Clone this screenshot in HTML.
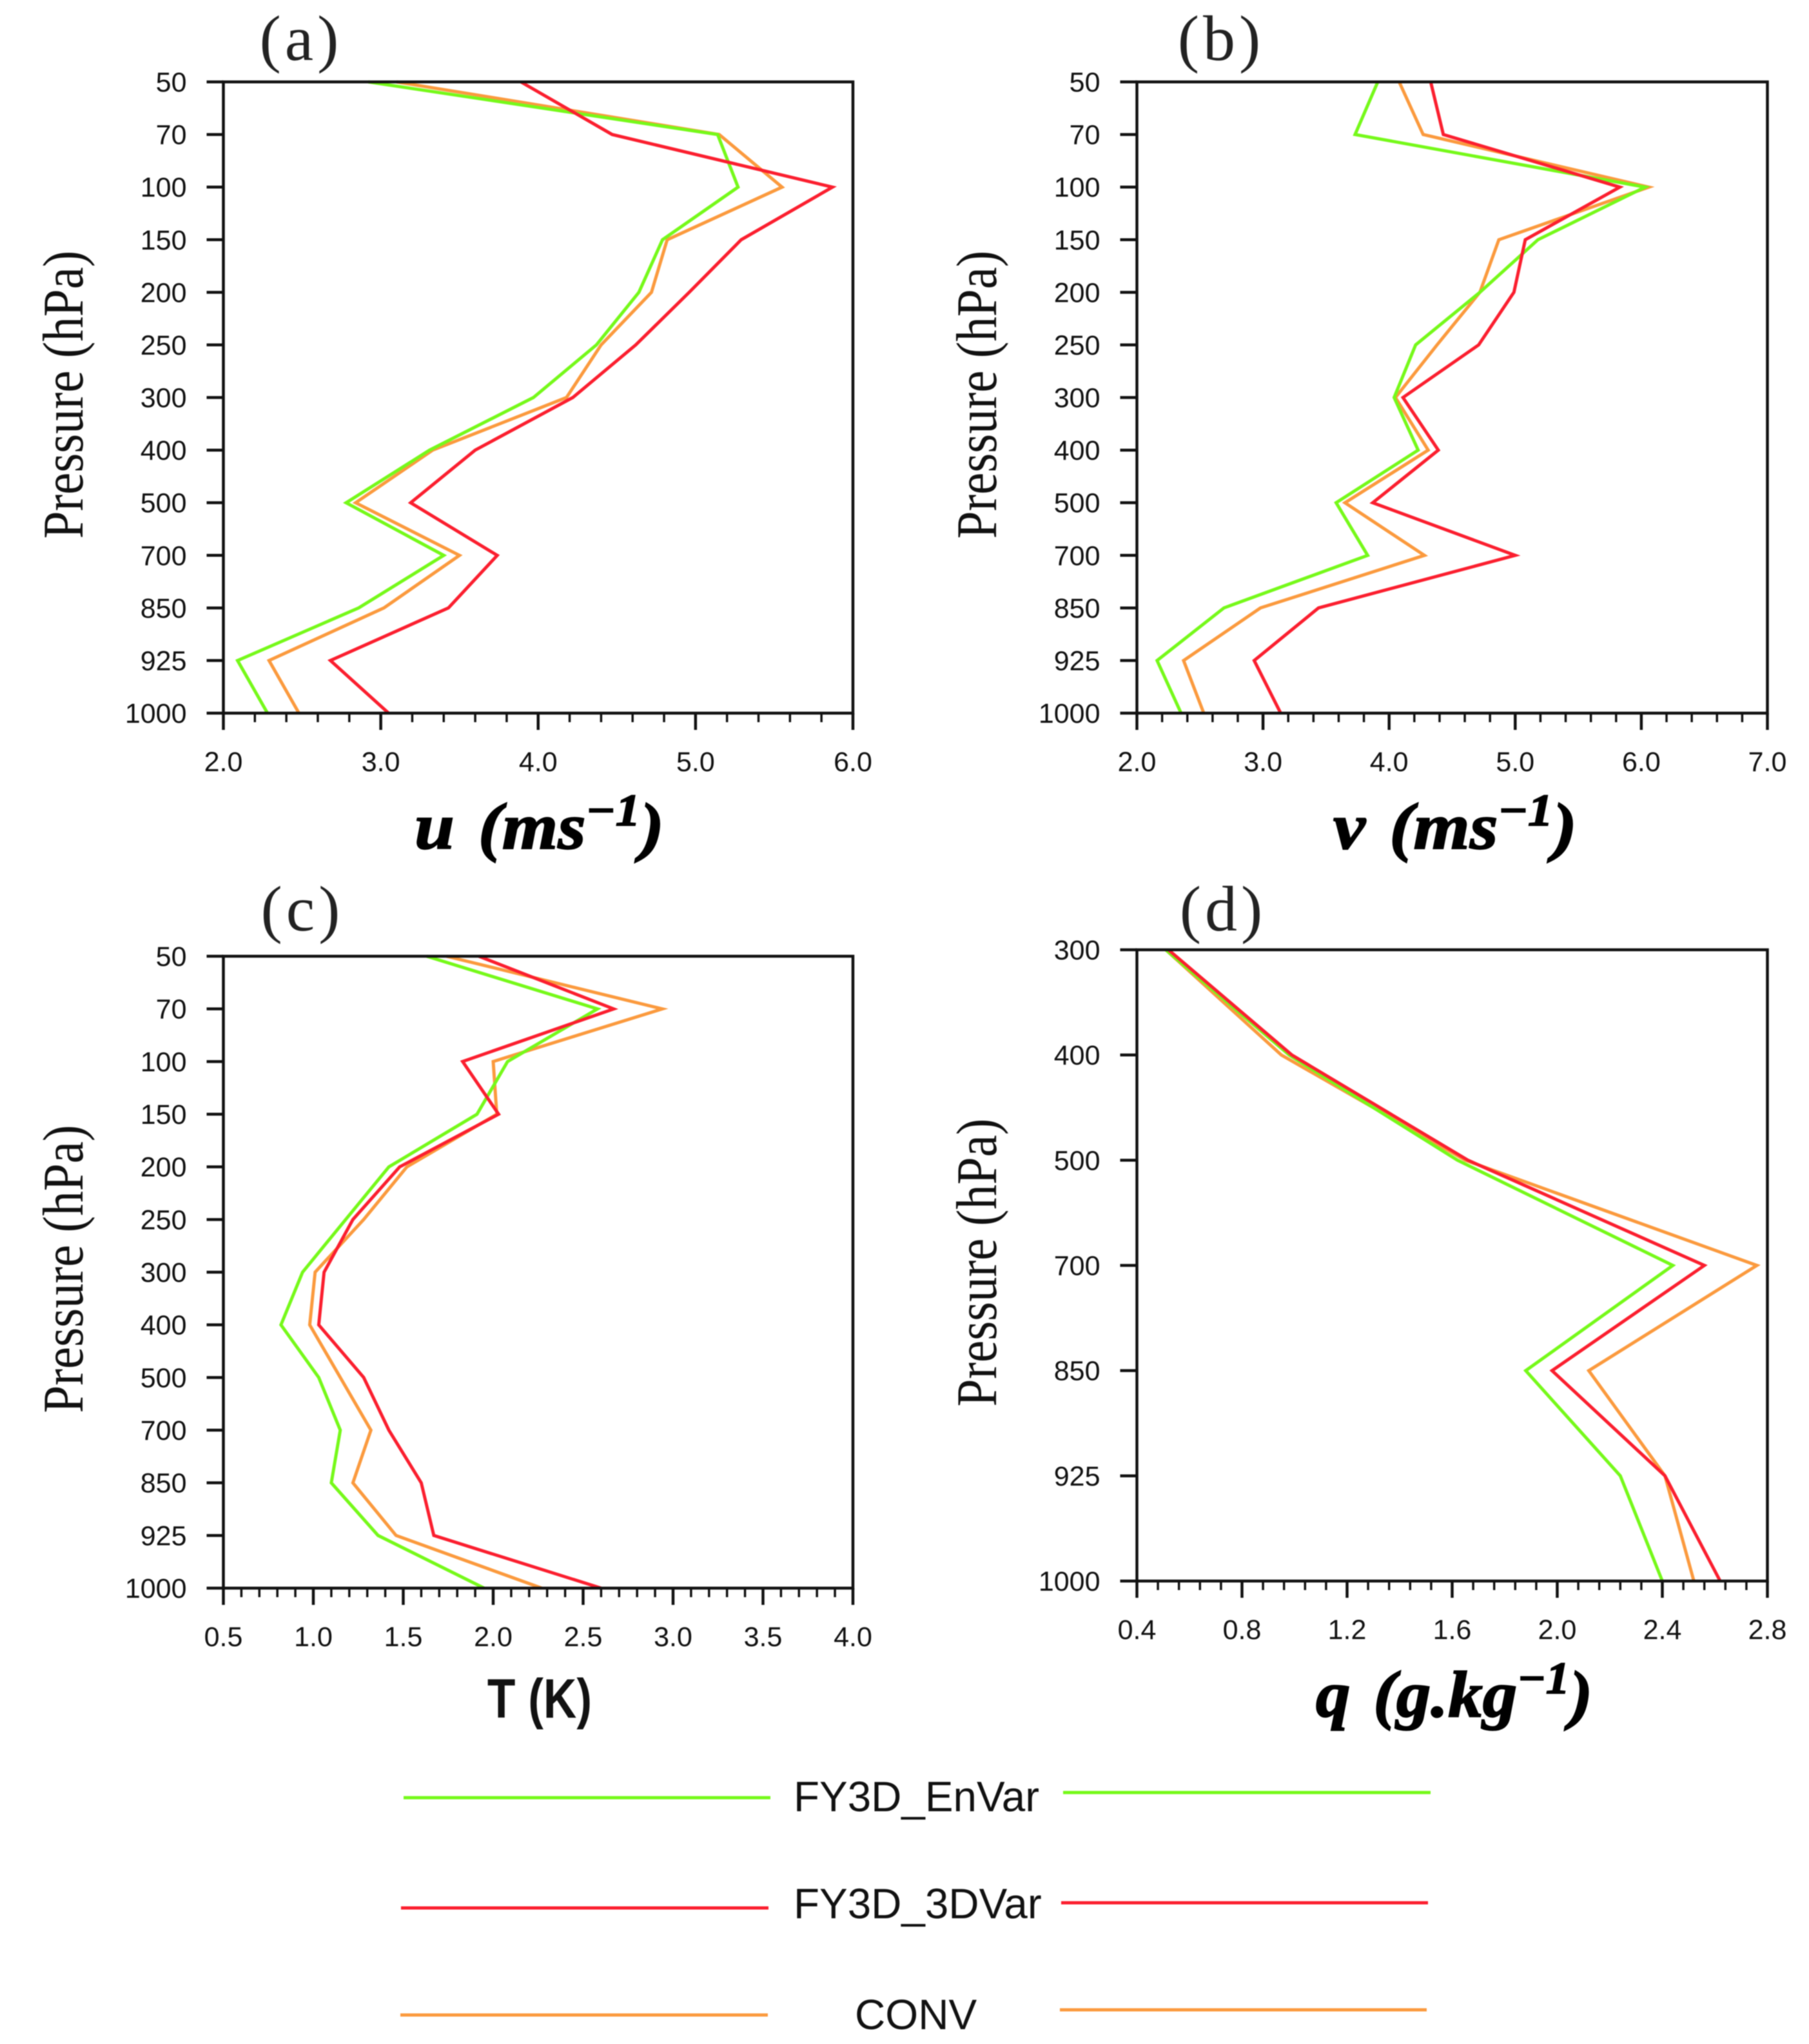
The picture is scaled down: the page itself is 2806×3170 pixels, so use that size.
<!DOCTYPE html>
<html lang="en">
<head>
<meta charset="utf-8">
<title>Vertical RMSE profiles</title>
<style>
html,body{margin:0;padding:0;background:#fff;}
svg{display:block;filter:blur(0.7px);}
.tick-label{font-family:"Liberation Sans",sans-serif;font-size:43px;fill:#111;}
.y-title{font-family:"Liberation Serif",serif;font-size:77px;fill:#111;}
.panel-label{font-family:"Liberation Serif",serif;font-size:100px;letter-spacing:6px;fill:#222;text-anchor:middle;}
.math-title{font-family:"Liberation Serif",serif;font-size:102px;font-style:italic;font-weight:bold;fill:#000;stroke:#000;stroke-width:2px;}
.sans-title{font-family:"Liberation Sans",sans-serif;font-size:72px;font-weight:bold;fill:#111;text-anchor:middle;}
.legend-text{font-family:"Liberation Sans",sans-serif;font-size:65.5px;fill:#111;}
</style>
</head>
<body>
<svg id="figure" xmlns="http://www.w3.org/2000/svg" width="2806" height="3170" viewBox="0 0 2806 3170">
  <rect x="0" y="0" width="2806" height="3170" fill="#fff"/>

  <text class="panel-label" x="467" y="93">(a)</text>
  <text class="panel-label" x="1894" y="93">(b)</text>
  <text class="panel-label" x="469" y="1443">(c)</text>
  <text class="panel-label" x="1897" y="1443">(d)</text>

  <text class="y-title" transform="translate(128,612) rotate(-90) scale(1,1.15)" text-anchor="middle">Pressure (hPa)</text>
  <text class="y-title" transform="translate(1545,612) rotate(-90) scale(1,1.15)" text-anchor="middle">Pressure (hPa)</text>
  <text class="y-title" transform="translate(128,1968) rotate(-90) scale(1,1.15)" text-anchor="middle">Pressure (hPa)</text>
  <text class="y-title" transform="translate(1545,1958) rotate(-90) scale(1,1.15)" text-anchor="middle">Pressure (hPa)</text>

  <text class="math-title" transform="translate(643,1316) scale(1.09,1)" x="0" y="0">u<tspan dx="34">(ms</tspan><tspan font-size="70" dy="-36">−1</tspan><tspan dy="36">)</tspan></text>
  <text class="math-title" transform="translate(2068,1316) scale(1.1,1)" x="0" y="0">v<tspan dx="34">(ms</tspan><tspan font-size="70" dy="-36">−1</tspan><tspan dy="36">)</tspan></text>
  <text class="sans-title" transform="translate(837,2664) scale(0.99,1.2)" x="0" y="0">T (K)</text>
  <text class="math-title" transform="translate(2041,2662) scale(1.05,1)" x="0" y="0">q<tspan dx="34">(g.kg</tspan><tspan font-size="70" dy="-36">−1</tspan><tspan dy="36">)</tspan></text>

  <g id="panels"></g>

  <g fill="none" stroke-width="5">
    <line x1="626" y1="2788" x2="1195" y2="2788" stroke="#76f91a"/>
    <line x1="1649" y1="2780" x2="2219" y2="2780" stroke="#76f91a"/>
    <text class="legend-text" x="1231" y="2809" fill="#111" stroke="none">FY3D_EnVar</text>
    <line x1="622" y1="2959" x2="1192" y2="2959" stroke="#fb1f2f"/>
    <line x1="1646" y1="2951" x2="2215" y2="2951" stroke="#fb1f2f"/>
    <text class="legend-text" x="1231" y="2975" fill="#111" stroke="none">FY3D_3DVar</text>
    <line x1="621" y1="3125" x2="1191" y2="3125" stroke="#fb9a3e"/>
    <line x1="1644" y1="3117" x2="2213" y2="3117" stroke="#fb9a3e"/>
    <text class="legend-text" x="1326" y="3147" fill="#111" stroke="none">CONV</text>
  </g>
</svg>

<script>
// ---------- data ----------
const levels = ["50","70","100","150","200","250","300","400","500","700","850","925","1000"];
const levelsQ = ["300","400","500","700","850","925","1000"];

const uEnVar = [2.92,5.14,5.27,4.79,4.64,4.37,3.97,3.31,2.78,3.40,2.86,2.09,2.28];
const uConv  = [3.10,5.15,5.55,4.82,4.72,4.40,4.18,3.33,2.84,3.50,3.02,2.29,2.48];
const u3DVar = [3.89,4.47,5.87,5.29,4.96,4.62,4.22,3.60,3.19,3.74,3.43,2.68,3.05];

const vEnVar = [3.91,3.73,6.03,5.18,4.72,4.21,4.04,4.23,3.58,3.83,2.69,2.16,2.35];
const vConv  = [4.08,4.27,6.06,4.87,4.72,4.38,4.05,4.31,3.65,4.28,2.98,2.37,2.53];
const v3DVar = [4.33,4.43,5.83,5.08,4.99,4.71,4.11,4.39,3.87,5.00,3.44,2.93,3.14];

const tEnVar = [1.63,2.58,2.08,1.91,1.42,1.18,0.94,0.82,1.03,1.15,1.10,1.36,1.95];
const tConv  = [1.74,2.94,2.00,2.02,1.52,1.28,1.01,0.98,1.15,1.32,1.22,1.46,2.27];
const t3DVar = [1.92,2.67,1.83,2.03,1.48,1.22,1.06,1.03,1.28,1.42,1.60,1.67,2.60];

const qEnVar = [0.51,0.98,1.62,2.44,1.88,2.24,2.40];
const qConv  = [0.51,0.95,1.65,2.76,2.12,2.41,2.52];
const q3DVar = [0.52,0.99,1.66,2.56,1.98,2.41,2.62];

const uTicks = ["2.0","3.0","4.0","5.0","6.0"];
const vTicks = ["2.0","3.0","4.0","5.0","6.0","7.0"];
const tTicks = ["0.5","1.0","1.5","2.0","2.5","3.0","3.5","4.0"];
const qTicks = ["0.4","0.8","1.2","1.6","2.0","2.4","2.8"];

// ---------- panel layout ----------
const NS = "http://www.w3.org/2000/svg";
const root = document.getElementById("panels");
const GREEN = "#76f91a", RED = "#fb1f2f", ORANGE = "#fb9a3e";

const panels = [
  {id:"a", L:346.5, R:1323, T:127, B:1106, ticks:uTicks, minorPer:5, ylabels:levels,  envar:uEnVar, conv:uConv, tdvar:u3DVar},
  {id:"b", L:1763.5,R:2741.5,T:127, B:1106, ticks:vTicks, minorPer:5, ylabels:levels,  envar:vEnVar, conv:vConv, tdvar:v3DVar},
  {id:"c", L:346.5, R:1323, T:1483,B:2463, ticks:tTicks, minorPer:5, ylabels:levels,  envar:tEnVar, conv:tConv, tdvar:t3DVar},
  {id:"d", L:1763.5,R:2741.5,T:1473,B:2452, ticks:qTicks, minorPer:5, ylabels:levelsQ, envar:qEnVar, conv:qConv, tdvar:q3DVar}
];

function makeLine(parent, x1, y1, x2, y2, w) {
  const l = document.createElementNS(NS, "line");
  l.setAttribute("x1", x1);
  l.setAttribute("y1", y1);
  l.setAttribute("x2", x2);
  l.setAttribute("y2", y2);
  l.setAttribute("stroke", "#111");
  l.setAttribute("stroke-width", w);
  parent.appendChild(l);
  return l;
}

function makeLabel(parent, x, y, anchor, str) {
  const t = document.createElementNS(NS, "text");
  t.setAttribute("class", "tick-label");
  t.setAttribute("x", x);
  t.setAttribute("y", y);
  t.setAttribute("text-anchor", anchor);
  t.textContent = str;
  parent.appendChild(t);
  return t;
}

function makeSeries(parent, vals, xs, ys, color) {
  const pl = document.createElementNS(NS, "polyline");
  pl.setAttribute("points", vals.map((v, i) => xs(v).toFixed(1) + "," + ys(i).toFixed(1)).join(" "));
  pl.setAttribute("fill", "none");
  pl.setAttribute("stroke", color);
  pl.setAttribute("stroke-width", "5");
  pl.setAttribute("stroke-linejoin", "miter");
  parent.appendChild(pl);
  return pl;
}

panels.forEach(function (p) {
  const g = document.createElementNS(NS, "g");
  
  
  root.appendChild(g);

  const xMin = parseFloat(p.ticks[0]);
  const xMax = parseFloat(p.ticks[p.ticks.length - 1]);
  const xs = v => p.L + (v - xMin) / (xMax - xMin) * (p.R - p.L);
  const ys = i => p.T + i / (p.ylabels.length - 1) * (p.B - p.T);

  // series (drawn before the frame)
  const s1 = makeSeries(g, p.conv, xs, ys, ORANGE);
  
  
  const s2 = makeSeries(g, p.envar, xs, ys, GREEN);
  
  
  const s3 = makeSeries(g, p.tdvar, xs, ys, RED);
  
  

  // frame
  const fr = document.createElementNS(NS, "rect");
  fr.setAttribute("x", p.L);
  fr.setAttribute("y", p.T);
  fr.setAttribute("width", p.R - p.L);
  fr.setAttribute("height", p.B - p.T);
  fr.setAttribute("fill", "none");
  fr.setAttribute("stroke", "#111");
  fr.setAttribute("stroke-width", "4.5");
  
  
  g.appendChild(fr);

  // y ticks
  p.ylabels.forEach(function (lab, i) {
    const t = makeLine(g, p.L - 26, ys(i), p.L, ys(i), 4.5);
    
    
    const tl = makeLabel(g, p.L - 57, ys(i) + 15, "end", lab);
    
    
  });

  // x ticks
  p.ticks.forEach(function (lab, i) {
    const v = parseFloat(lab);
    const t = makeLine(g, xs(v), p.B, xs(v), p.B + 26, 4.5);
    
    
    const tl = makeLabel(g, xs(v), p.B + 90, "middle", lab);
    
    
    if (i < p.ticks.length - 1) {
      const next = parseFloat(p.ticks[i + 1]);
      for (let m = 1; m < p.minorPer; m++) {
        const mv = v + (next - v) * m / p.minorPer;
        const mt = makeLine(g, xs(mv), p.B, xs(mv), p.B + 14, 3.5);
        
        
      }
    }
  });
});
</script>
</body>
</html>
